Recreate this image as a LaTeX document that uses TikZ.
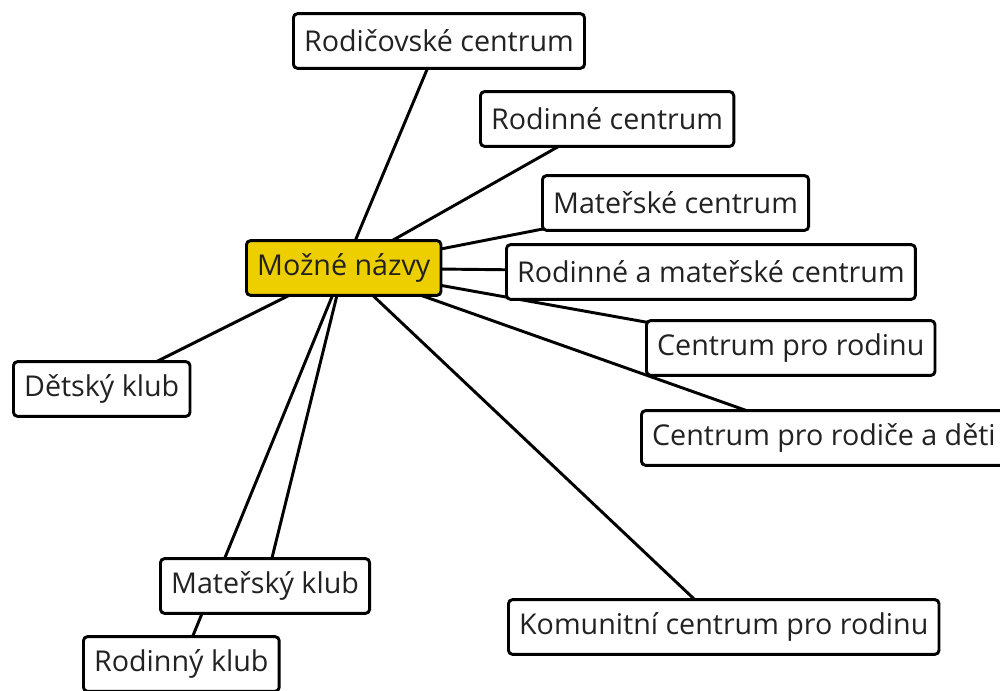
\documentclass[tikz,border=0pt]{standalone}
\usepackage{fontspec}
\setmainfont{Open Sans}
\usetikzlibrary{backgrounds}
\definecolor{nazevyellow}{RGB}{237,207,0}
\definecolor{nazevtext}{RGB}{34,34,34}

\tikzset{
    namebox/.style={draw=black, line width=2.2pt, rounded corners=3pt, fill=white,
        minimum height=41pt, inner xsep=8pt, anchor=west, text=nazevtext,
        font=\fontsize{21.5}{24}\selectfont},
    mainbox/.style={namebox, fill=nazevyellow},
    link/.style={line width=2.2pt, black}
}

\begin{document}
\begin{tikzpicture}[x=0.75pt,y=-0.75pt]
    \useasboundingbox (0,0) rectangle (1000,691);
    \clip (0,0) rectangle (1000,691);

    \node[mainbox] (main) at (245,268) {Možné názvy};

    \node[namebox] (rodicovske) at (292,41) {Rodičovské centrum};
    \node[namebox] (rodinne) at (479,119) {Rodinné centrum};
    \node[namebox] (materske) at (541,203) {Mateřské centrum};
    \node[namebox] (rodmat) at (505,272) {Rodinné a mateřské centrum};
    \node[namebox] (prorodinu) at (645,348) {Centrum pro rodinu};
    \node[namebox] (rodicedeti) at (640,438) {Centrum pro rodiče a děti};
    \node[namebox] (komunitni) at (507,627) {Komunitní centrum pro rodinu};
    \node[namebox] (detsky) at (12,389) {Dětský klub};
    \node[namebox] (materskyklub) at (159,586) {Mateřský klub};
    \node[namebox] (rodinnyklub) at (82,664) {Rodinný klub};

    % spojnice pod ramecky
    \begin{scope}[on background layer]
        \foreach \t in {rodicovske,rodinne,materske,rodmat,prorodinu,komunitni,detsky,materskyklub,rodinnyklub}
            \draw[link] (main.center) -- (\t.center);
        \draw[link] (main.center) -- (rodicedeti.center);
    \end{scope}
\end{tikzpicture}
\end{document}
